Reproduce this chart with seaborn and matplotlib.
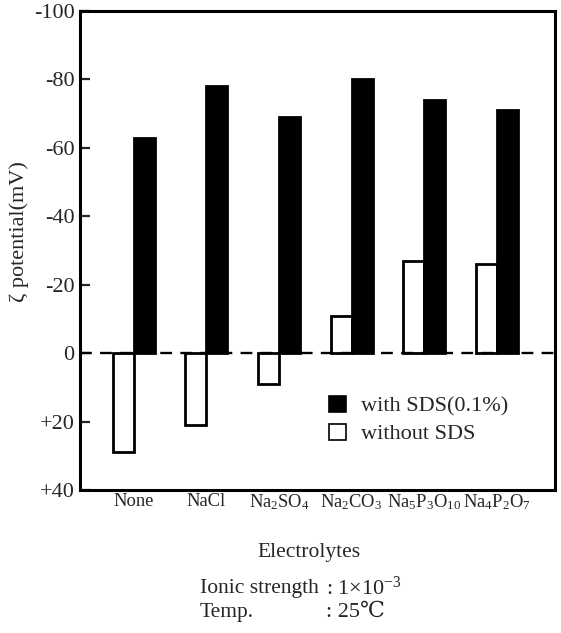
import matplotlib
matplotlib.use("Agg")
import matplotlib.pyplot as plt
import seaborn as sns
import pandas as pd
from matplotlib.patches import Patch

# ---- data ----
categories = ["None", "NaCl", "Na2SO4", "Na2CO3", "Na5P3O10", "Na4P2O7"]
tick_labels = ["None", "NaCl",
               r"Na$_{\mathregular{2}}$SO$_{\mathregular{4}}$",
               r"Na$_{\mathregular{2}}$CO$_{\mathregular{3}}$",
               r"Na$_{\mathregular{5}}$P$_{\mathregular{3}}$O$_{\mathregular{10}}$",
               r"Na$_{\mathregular{4}}$P$_{\mathregular{2}}$O$_{\mathregular{7}}$"]
with_sds = [-63, -78, -69, -80, -74, -71]
without_sds = [29, 21, 9, -11, -27, -26]
series_names = ["without SDS", "with SDS(0.1%)"]
yticks = [-100, -80, -60, -40, -20, 0, 20, 40]
ytick_labels = ["-100", "-80", "-60", "-40", "-20", "0", "+20", "+40"]

df = pd.DataFrame({
    "Electrolyte": categories * 2,
    "zeta": without_sds + with_sds,
    "series": [series_names[0]] * len(categories) + [series_names[1]] * len(categories),
})

sns.set_style("ticks")
plt.rcParams["font.family"] = ["Liberation Serif", "DejaVu Serif"]
plt.rcParams["mathtext.fontset"] = "custom"
plt.rcParams["mathtext.rm"] = "Liberation Serif"
plt.rcParams["mathtext.it"] = "Liberation Serif:italic"

W, H = 561, 633
fig = plt.figure(figsize=(W / 100, H / 100), dpi=100)
ax = fig.add_axes([80 / W, 1 - 490 / H, (555 - 80) / W, (490 - 11) / H])

palette = {series_names[0]: "white", series_names[1]: "black"}
sns.barplot(data=df, x="Electrolyte", y="zeta", hue="series", hue_order=series_names,
            order=categories, palette=palette, edgecolor="black", linewidth=2,
            width=0.58, errorbar=None, legend=False, ax=ax, saturation=1)

ax.axhline(0, color="black", lw=1.7, ls=(0, (5, 3.5)), zorder=5)

ax.set_xlim(-0.74, 5.8)
ax.set_ylim(40, -100)
ax.set_yticks(yticks)
ax.set_yticklabels(ytick_labels, fontsize=16)
ax.set_xticks(range(len(categories)))
ax.set_xticklabels(tick_labels, fontsize=13.3)
ax.tick_params(axis="x", length=0, pad=2)
ax.tick_params(axis="y", direction="in", length=7, width=1.6, pad=4)
ax.set_xlabel("")
ax.set_ylabel("ζ potential(mV)", fontsize=16)
ax.yaxis.set_label_coords(-0.108, 0.54)
for s in ax.spines.values():
    s.set_visible(True)
    s.set_linewidth(2.2)
    s.set_color("black")

handles = [Patch(facecolor="black", edgecolor="black", lw=1.2),
           Patch(facecolor="white", edgecolor="black", lw=1.2)]
fig.legend(handles, [series_names[1], series_names[0]], loc="upper left",
           bbox_to_anchor=(329 / W, 1 - 396 / H), frameon=False, fontsize=16,
           handlelength=0.75, handleheight=0.75, handletextpad=0.7,
           labelspacing=0.3, borderpad=0, borderaxespad=0)

fig.text(309 / W, 1 - 553 / H, "Electrolytes", ha="center", va="center", fontsize=15.5)
fig.text(200 / W, 1 - 588 / H, "Ionic strength", ha="left", va="center", fontsize=15.5)
fig.text(326 / W, 1 - 588 / H, r": 1×10$^{\mathregular{-3}}$", ha="left", va="center", fontsize=16)
fig.text(200 / W, 1 - 612 / H, "Temp.", ha="left", va="center", fontsize=15.5)
fig.text(326 / W, 1 - 612 / H, ": 25℃", ha="left", va="center", fontsize=16)

fig.savefig("out.png", dpi=100)
